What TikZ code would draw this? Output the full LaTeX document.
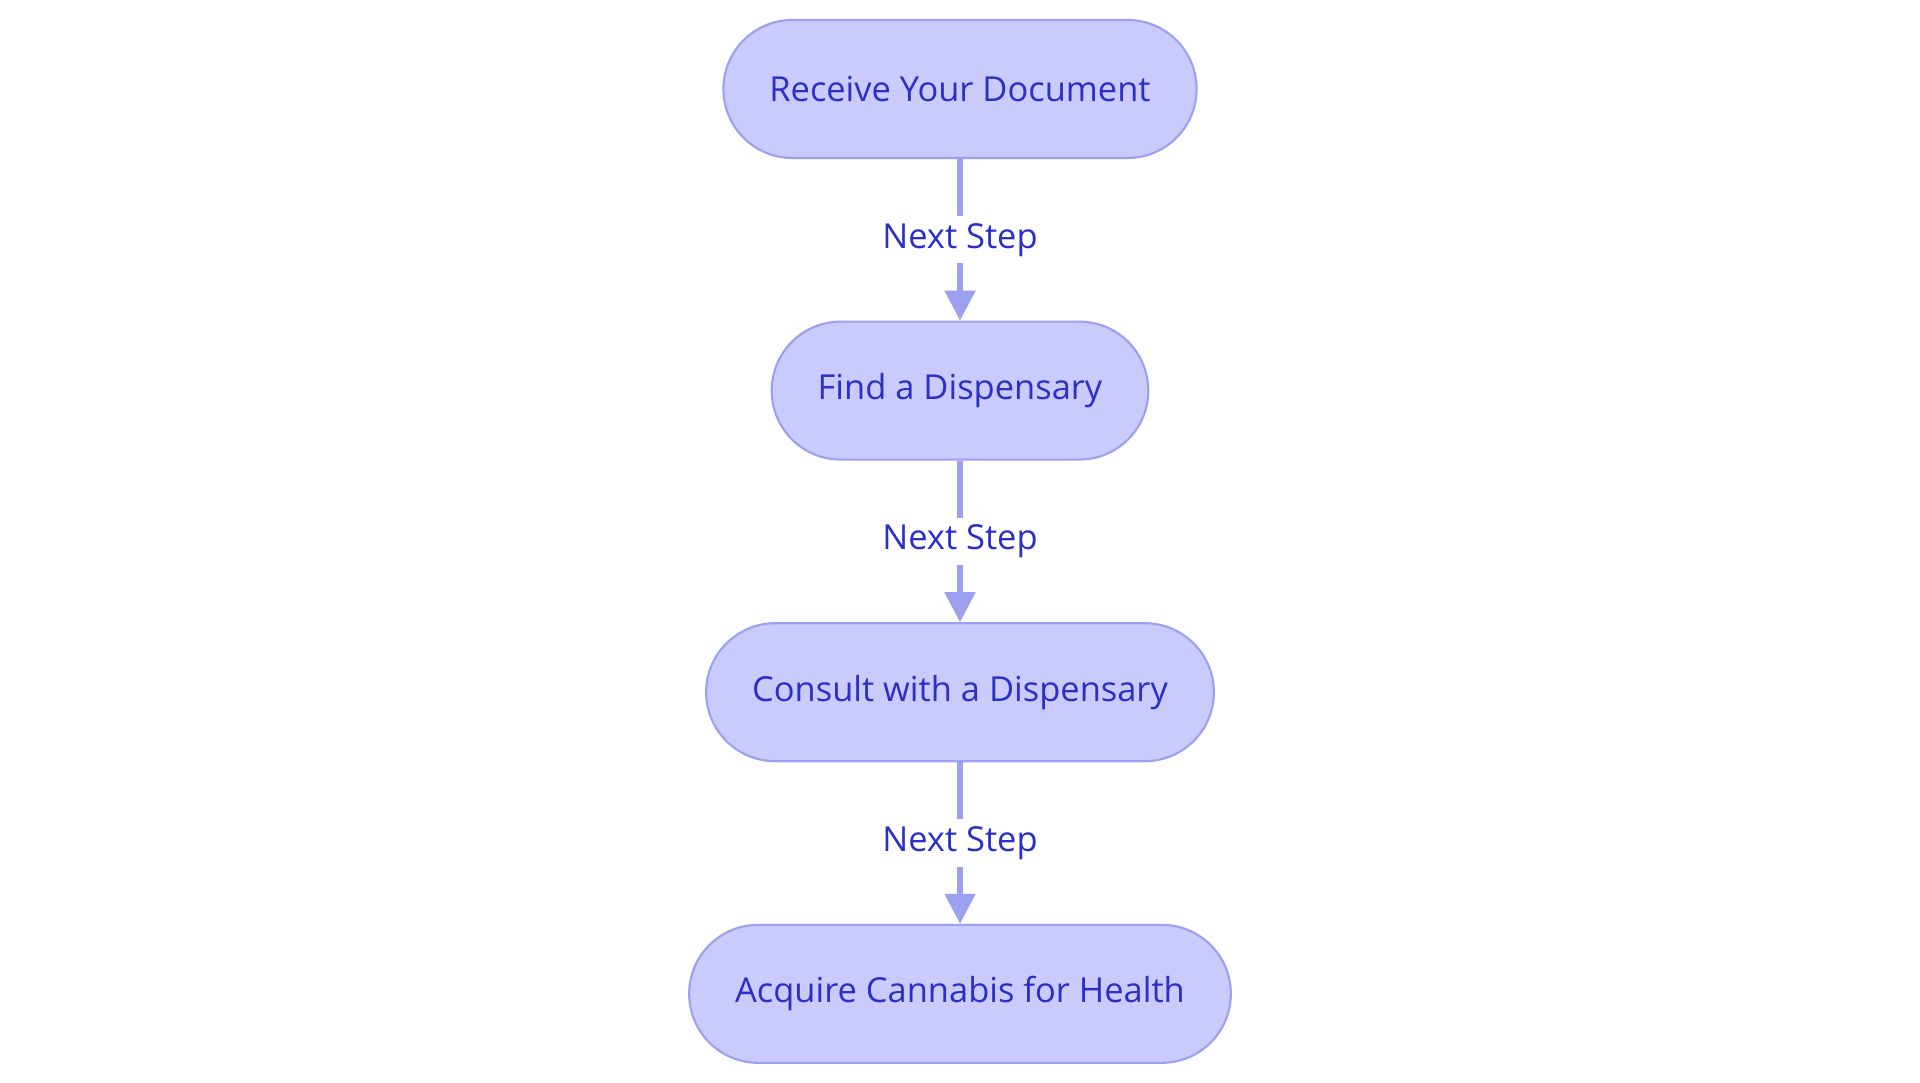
\documentclass[tikz,border=0pt]{standalone}
\usepackage{fontspec}
\setmainfont{Open Sans}
\usetikzlibrary{positioning}
\usetikzlibrary {arrows.meta}
\definecolor{stagefill}{RGB}{201,203,252}
\definecolor{stageline}{RGB}{155,160,240}
\definecolor{stagetext}{RGB}{43,47,199}
\tikzset{stage/.style={rectangle,draw=stageline,fill=stagefill,line width=0.6pt,
rounded corners=6.9mm,inner xsep=4.6mm,minimum height=13.8mm,
text=stagetext,font=\fontsize{9.8}{12}\selectfont}}
\tikzset{stagelabel/.style={rectangle,draw=none,fill=white,
inner sep=2pt,text=stagetext,font=\fontsize{9.8}{12}\selectfont}}
\tikzset{stagearrow/.style={line width=1.5pt,draw=stageline,
-{Triangle[length=3mm,width=3mm]}}}

\begin{document}
\begin{tikzpicture}

        \useasboundingbox (0,0) rectangle (19.2,10.83);

        \node[stage] (stepA) at (9.6, 9.94) {Receive Your Document};
        \node[stage] (stepB) [below=16.15mm of stepA] {Find a Dispensary};
        \node[stage] (stepC) [below=16.15mm of stepB] {Consult with a Dispensary};
        \node[stage] (stepD) [below=16.15mm of stepC] {Acquire Cannabis for Health};

        \draw [stagearrow] (stepA) --node[stagelabel] {Next Step} (stepB);
        \draw [stagearrow] (stepB) --node[stagelabel] {Next Step} (stepC);
        \draw [stagearrow] (stepC) --node[stagelabel] {Next Step} (stepD);

    \end{tikzpicture}
\end{document}
